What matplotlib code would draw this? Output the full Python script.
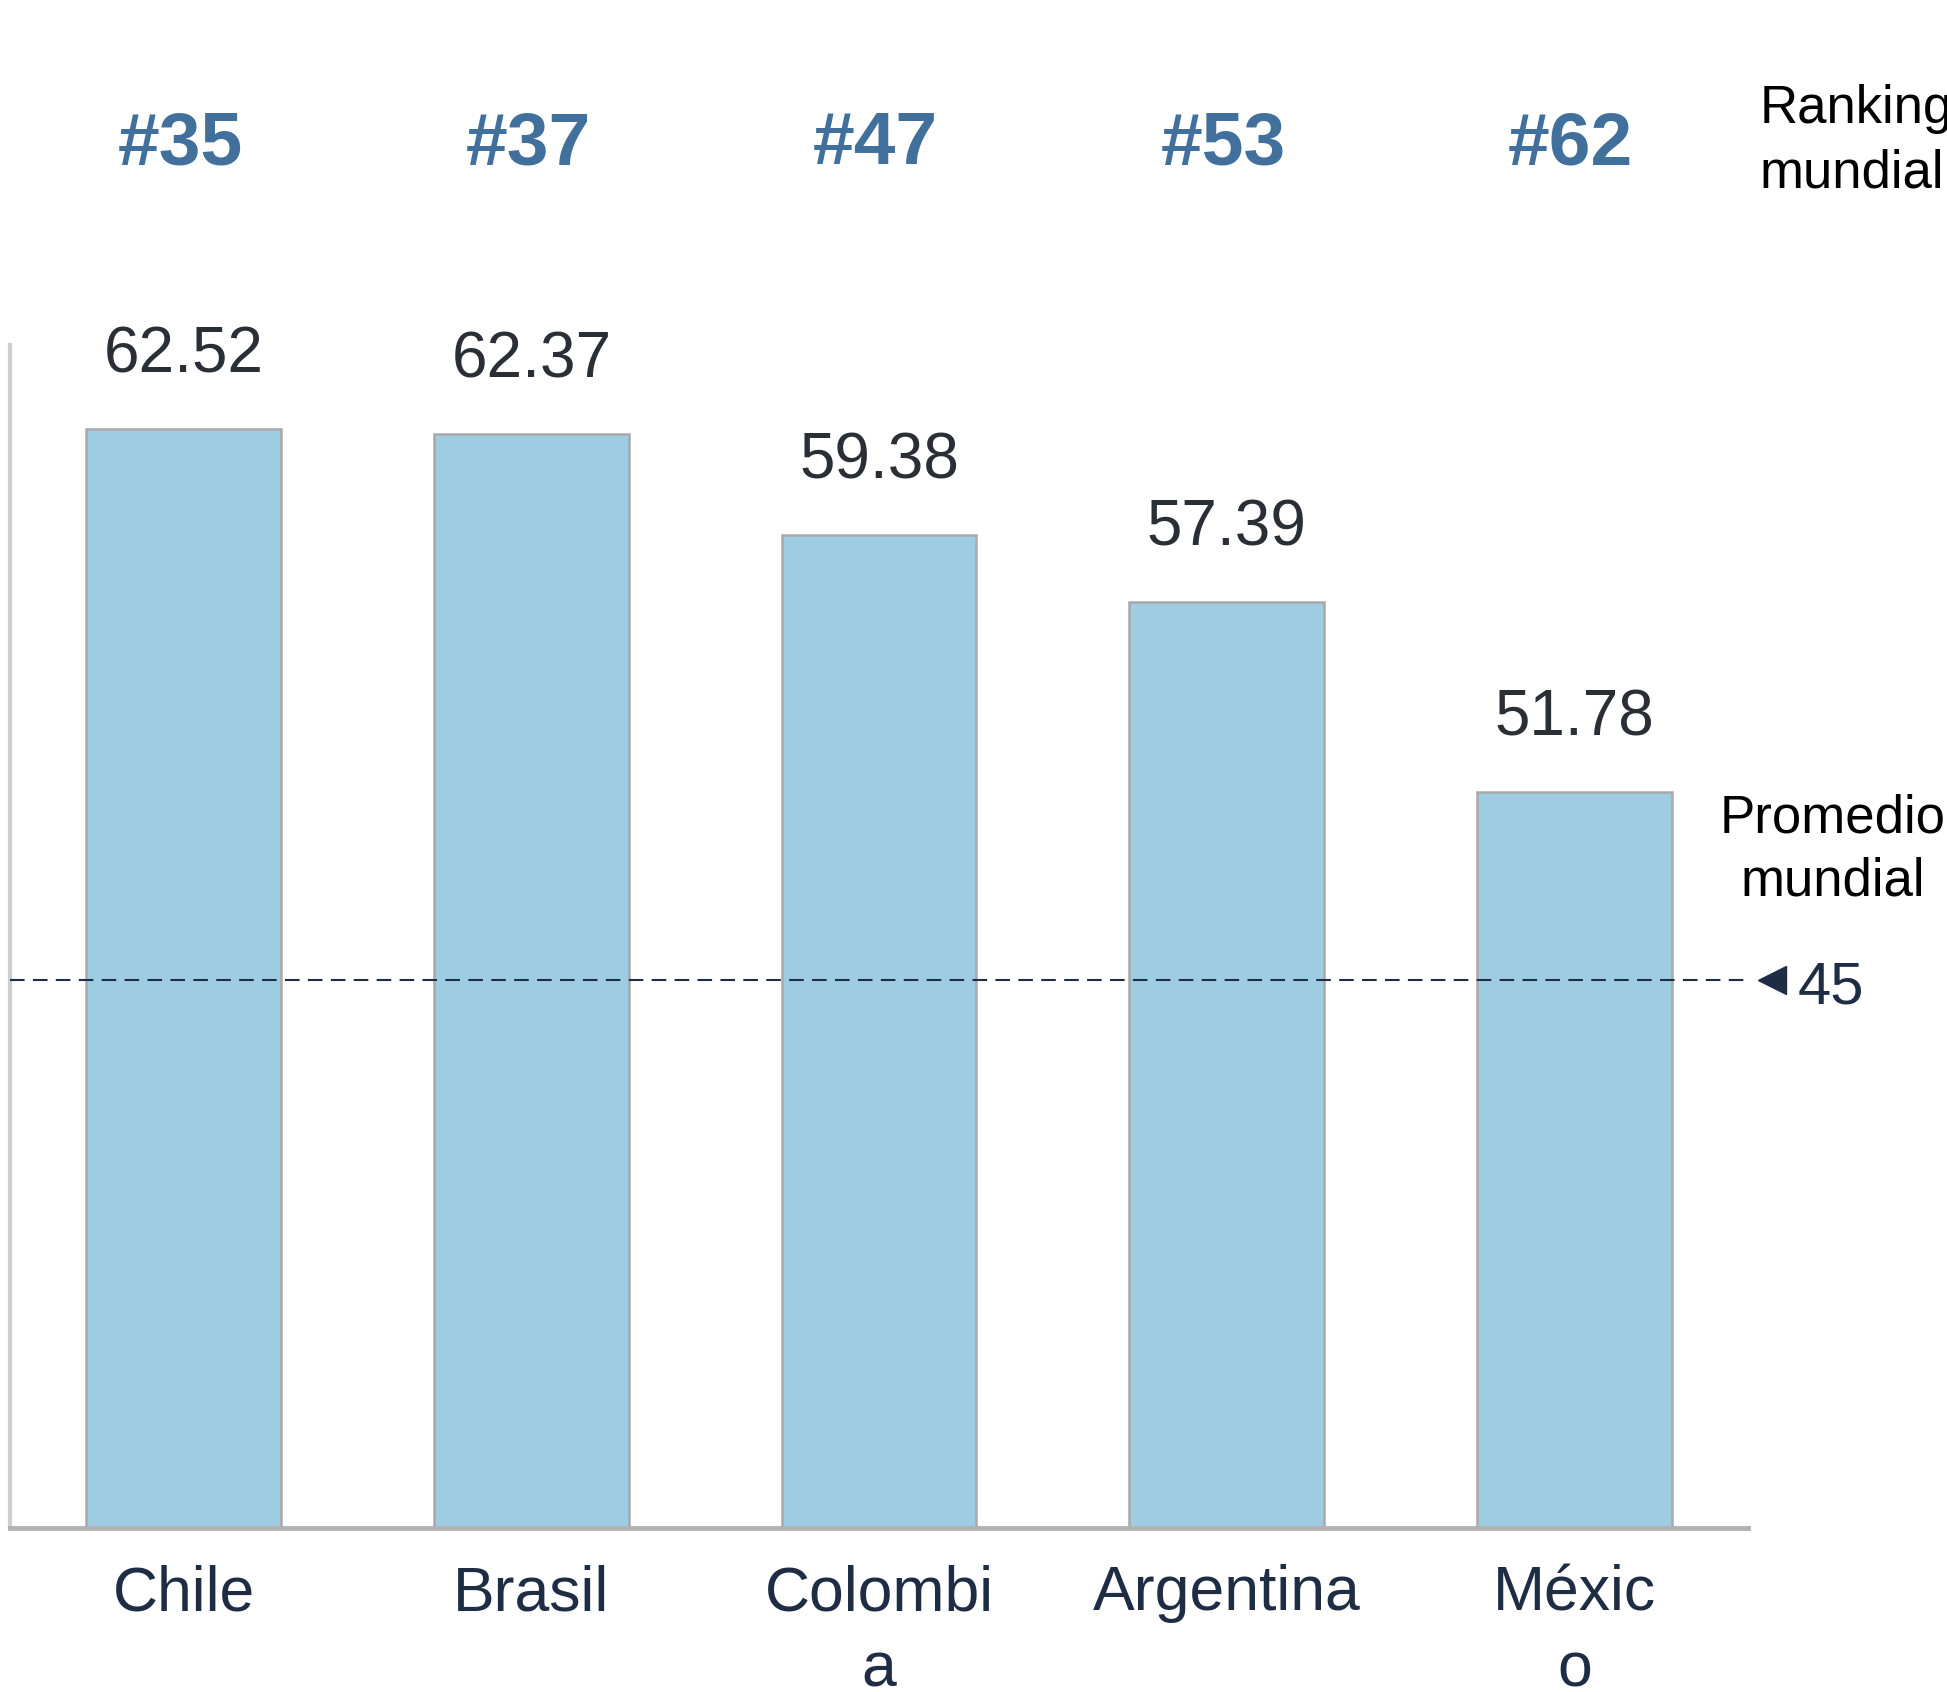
import numpy as np
import matplotlib.pyplot as plt

plt.rcParams['font.family'] = ['Liberation Sans', 'DejaVu Sans']

paises = ['Chile', 'Brasil', 'Colombi\na', 'Argentina', 'Méxic\no']
puntaje = [62.52, 62.37, 59.38, 57.39, 51.78]
ranking = ['#35', '#37', '#47', '#53', '#62']
promedio_txt = '45'
promedio_pos = 46.2   # where the dashed line sits on the bar scale in the original

azul_barra = '#9ecde3'
azul_rank = '#41709c'
navy = '#1f2d44'

fig = plt.figure(figsize=(19.47, 16.92), dpi=100)
ax = fig.add_axes([0.00514, 0.0969, 0.8927, 0.6992])

x = np.arange(len(paises))
ax.bar(x, puntaje, width=0.56, color=azul_barra, edgecolor='#a9a9a9',
       linewidth=1.8, zorder=2)

for xi, v in zip(x, puntaje):
    ax.annotate(f'{v:.2f}', (xi, v), xytext=(0, 53), textcoords='offset points',
                ha='center', va='center', fontsize=46, color='#2a2e35')

# ranking mundial row at the top
trans = ax.get_xaxis_transform()
for xi, r in zip(x, ranking):
    ax.text(xi - 0.01, 1.0 + (345 - 145) / (1528 - 345), r, transform=trans,
            ha='center', va='center', fontsize=54, fontweight='bold',
            color=azul_rank, clip_on=False)

fig.text(1760 / 1947, 1 - 123 / 1692, 'Ranking', fontsize=38, color='black',
         ha='left', va='baseline')
fig.text(1760 / 1947, 1 - 187 / 1692, 'mundial', fontsize=38, color='black',
         ha='left', va='baseline')

# promedio mundial
ax.axhline(promedio_pos, color=navy, linestyle=(0, (7, 4)), linewidth=1.5,
           zorder=3)
ax.plot([4.57], [promedio_pos], marker='<', markersize=20, color=navy,
        clip_on=False, zorder=3)
fig.text(1798 / 1947, 1 - 1003 / 1692, promedio_txt, fontsize=43, color=navy,
         ha='left', va='baseline')
fig.text(1833 / 1947, 1 - 832 / 1692, 'Promedio', fontsize=38, color='black',
         ha='center', va='baseline')
fig.text(1833 / 1947, 1 - 895 / 1692, 'mundial', fontsize=38, color='black',
         ha='center', va='baseline')

ax.set_xlim(-0.5, 4.5)
ax.set_ylim(30, 65)
ax.set_xticks(x)
ax.set_xticklabels(paises, fontsize=45, color=navy, linespacing=1.38)
ax.tick_params(axis='x', length=0, pad=26)
ax.set_yticks([])

for s in ['top', 'right']:
    ax.spines[s].set_visible(False)
ax.spines['left'].set_color('#cfcfcf')
ax.spines['left'].set_linewidth(3)
ax.spines['bottom'].set_color('#b3b3b3')
ax.spines['bottom'].set_linewidth(3.5)

fig.savefig('out.png', dpi=100)
